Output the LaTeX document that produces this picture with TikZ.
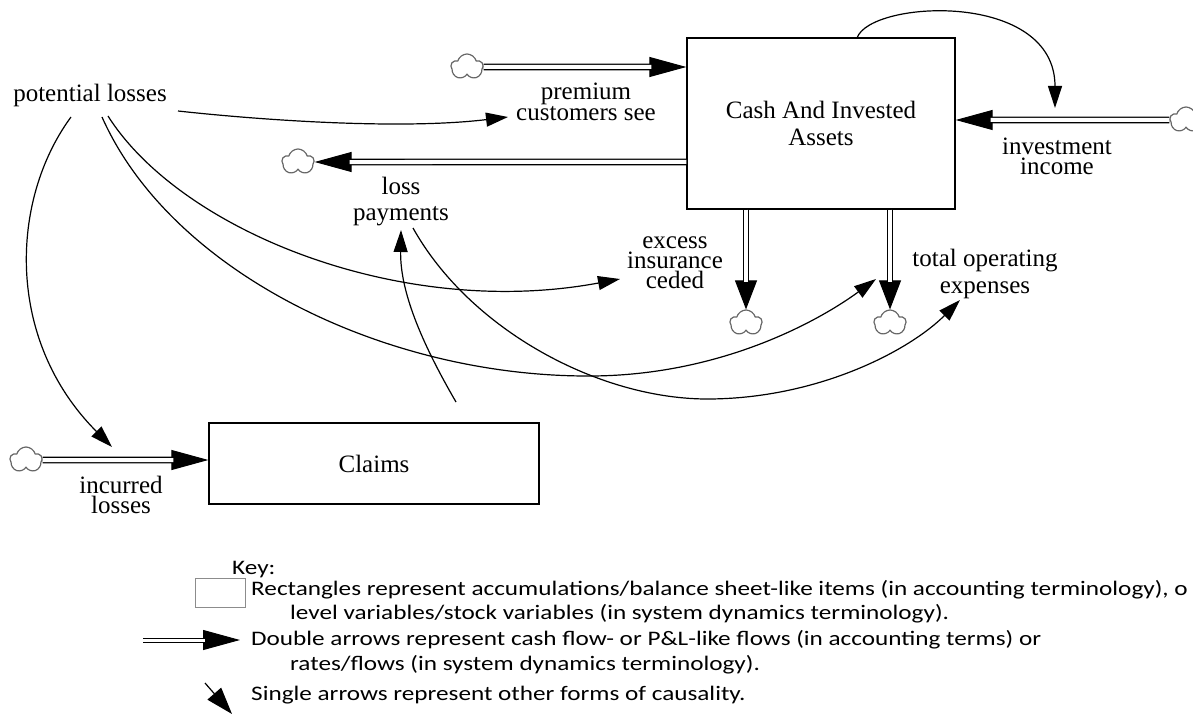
\documentclass[tikz,border=0pt]{standalone}
\usepackage{fontspec}
\usepackage{graphicx}
\setmainfont{Liberation Serif}
\newfontfamily\keyfont{Carlito}
\usetikzlibrary{arrows.meta,shapes.symbols,calc}
\begin{document}
\begin{tikzpicture}[x=1pt,y=-1pt,
  lbl/.style={align=center, inner sep=0pt, font=\fontsize{25}{22}\selectfont},
  stock/.style={draw, line width=1.3pt, inner sep=0pt, font=\fontsize{25}{27}\selectfont, align=center},
  cloudy/.style={cloud, cloud puffs=5, draw=black!60, line width=1.2pt, minimum width=32pt, minimum height=26pt, inner sep=0pt, aspect=1.2},
  pipe/.style={double distance=4pt, line width=1.3pt, draw=black, double=white},
  hhead/.style={line width=1pt, -{Triangle[length=37pt,width=20pt]}},
  vhead/.style={line width=1pt, -{Triangle[length=29pt,width=22pt]}},
  link/.style={line width=1.2pt, -{Triangle[length=22pt,width=14pt]}},
  keytxt/.style={font=\keyfont\fontsize{25.2}{25}\selectfont, inner sep=0pt, anchor=west},
]
\useasboundingbox (0,0) rectangle (1193,714);

% stocks
\node[stock, minimum width=268pt, minimum height=171pt] (cash) at (821,123.5) {Cash And Invested\\Assets};
\node[stock, minimum width=330pt, minimum height=81pt] (claims) at (374,463.5) {Claims};

% clouds
\node[cloudy] (cP) at (467,67) {};
\node[cloudy] (cLP) at (298,162) {};
\node[cloudy] (cEIC) at (746,323) {};
\node[cloudy] (cTOE) at (890,323) {};
\node[cloudy] (cII) at (1186,120) {};
\node[cloudy] (cIL) at (26,460) {};

% labels
\node[lbl] (pl) at (90,95) {potential losses};
\node[lbl, font=\fontsize{25}{21}\selectfont] (prem) at (586,102) {premium\\customers see};
\node[lbl, font=\fontsize{25}{26}\selectfont] (lp) at (401,202) {loss\\payments};
\node[lbl, font=\fontsize{25}{20}\selectfont] (eic) at (675,263) {excess\\insurance\\ceded};
\node[lbl, font=\fontsize{25}{27}\selectfont] (toe) at (985,274) {total operating\\expenses};
\node[lbl, font=\fontsize{25}{20}\selectfont] (ii) at (1057,156) {investment\\income};
\node[lbl, font=\fontsize{25}{20}\selectfont] (il) at (121,495) {incurred\\losses};

% flows
\draw[hhead] (cP.east) -- (cash.west |- cP);
\draw[pipe, shorten >=35pt] (cP.east) -- (cash.west |- cP);

\draw[hhead] (cash.west |- cLP) -- (cLP.east);
\draw[pipe, shorten >=35pt] (cash.west |- cLP) -- (cLP.east);

\draw[hhead] (cII.west) -- (cash.east |- cII);
\draw[pipe, shorten >=35pt] (cII.west) -- (cash.east |- cII);

\draw[vhead] (cash.south -| cEIC) -- (cEIC.north);
\draw[pipe, shorten >=27pt] (cash.south -| cEIC) -- (cEIC.north);

\draw[vhead] (cash.south -| cTOE) -- (cTOE.north);
\draw[pipe, shorten >=27pt] (cash.south -| cTOE) -- (cTOE.north);

\draw[hhead] (cIL.east) -- (claims.west |- cIL);
\draw[pipe, shorten >=35pt] (cIL.east) -- (claims.west |- cIL);

% link end points
\coordinate (pl1) at (71,117);
\coordinate (pl2) at (102,117);
\coordinate (pl3) at (108,116);
\coordinate (pl4) at (178,111);
\coordinate (ilT) at (112,447);
\coordinate (premT) at (508,117);
\coordinate (eicT) at (620,279);
\coordinate (toeT1) at (876,279);
\coordinate (toeT2) at (960,300);
\coordinate (clS) at (456,402);
\coordinate (lpT) at (401,230);
\coordinate (lpS) at (413,228);
\coordinate (cashS) at (857,38);
\coordinate (iiT) at (1055,108);

% links
\draw[link] (pl1) .. controls (10,200) and (5,340) .. (ilT);
\draw[link] (pl4) .. controls (260,120) and (400,130) .. (premT);
\draw[link] (pl3) .. controls (180,230) and (400,320) .. (eicT);
\draw[link] (pl2) .. controls (170,270) and (380,375) .. (585,376) .. controls (720,377) and (820,320) .. (toeT1);
\draw[link] (clS) .. controls (420,340) and (400,290) .. (lpT);
\draw[link] (lpS) .. controls (470,330) and (600,400) .. (710,399) .. controls (820,398) and (910,350) .. (toeT2);
\draw[link] (cashS) .. controls (870,0) and (1055,-10) .. (iiT);

% key
\node[keytxt] (k0) at (232,570) {\scalebox{1}[0.82]{Key:}};
\node[draw=black!45, line width=0.9pt, minimum width=50pt, minimum height=29pt, inner sep=0pt] (kbox) at (220,592.5) {};
\node[keytxt] (k1) at (251,590) {\scalebox{1}[0.82]{Rectangles represent accumulations/balance sheet-like items (in accounting terminology), o}};
\node[keytxt] (k2) at (290,614) {\scalebox{1}[0.82]{level variables/stock variables (in system dynamics terminology).}};
\node[keytxt] (k3) at (251,640) {\scalebox{1}[0.82]{Double arrows represent cash flow- or P\&L-like flows (in accounting terms) or}};
\node[keytxt] (k4) at (290,665) {\scalebox{1}[0.82]{rates/flows (in system dynamics terminology).}};
\node[keytxt] (k5) at (251,695) {\scalebox{1}[0.82]{Single arrows represent other forms of causality.}};

\coordinate (ka) at (143,640);
\coordinate (kb) at (240,640);
\draw[hhead] (ka) -- (kb);
\draw[pipe, line width=1pt, double distance=3pt, shorten >=35pt] (ka) -- (kb);
\coordinate (kc) at (205,683);
\coordinate (kd) at (232,714);
\draw[line width=1.2pt, -{Triangle[length=27pt,width=18pt]}] (kc) -- (kd);
\end{tikzpicture}
\end{document}
